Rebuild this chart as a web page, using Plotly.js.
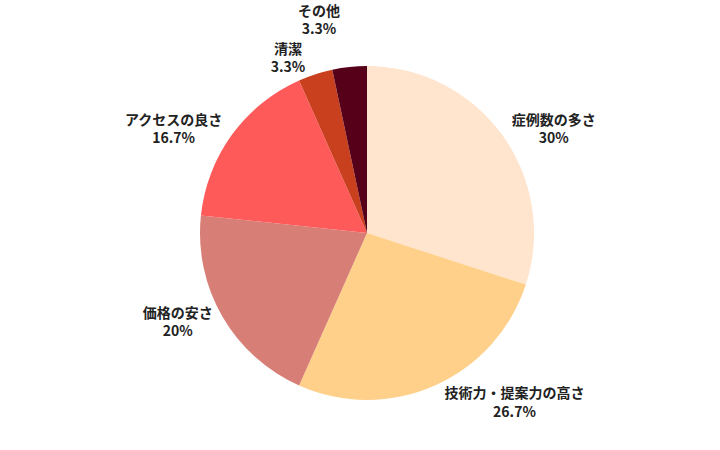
<!DOCTYPE html>
<html>
<head>
<meta charset="utf-8">
<script src="https://cdn.plot.ly/plotly-3.0.1.min.js"></script>
<style>
  html, body { margin: 0; padding: 0; background: #fff; }
  #chart { width: 720px; height: 450px; }
  /* reference has no leader lines */
  #chart path.textline { display: none; }
</style>
</head>
<body>
<div id="chart"></div>
<script>
// reasons chosen (answer counts)
var labels = ['症例数の多さ', '技術力・提案力の高さ', '価格の安さ', 'アクセスの良さ', '清潔', 'その他'];
var counts = [9, 8, 6, 5, 1, 1];
var colors = ['#FFE4CE', '#FFD08A', '#D77E76', '#FF5A5A', '#C9401F', '#560019'];

var total = counts.reduce(function(a, b) { return a + b; }, 0);
var pctText = counts.map(function(v) {
    var p = Math.round(v / total * 1000) / 10;
    return p + '%';
});

var data = [{
    type: 'pie',
    labels: labels,
    values: counts,
    text: pctText,
    sort: false,
    direction: 'clockwise',
    rotation: 0,
    marker: { colors: colors, line: { width: 0 } },
    textposition: 'outside',
    texttemplate: '%{label}<br>%{text}',
    hoverinfo: 'label+percent',
    outsidetextfont: { family: '"Noto Sans CJK JP", "Noto Sans", sans-serif', size: 14, color: '#222', weight: 'bold' },
    showlegend: false
}];

var layout = {
    width: 720,
    height: 450,
    margin: { l: 200, r: 186, t: 66, b: 50 },
    paper_bgcolor: '#fff',
    showlegend: false
};

Plotly.newPlot('chart', data, layout, { displayModeBar: false, staticPlot: true });
</script>
</body>
</html>
